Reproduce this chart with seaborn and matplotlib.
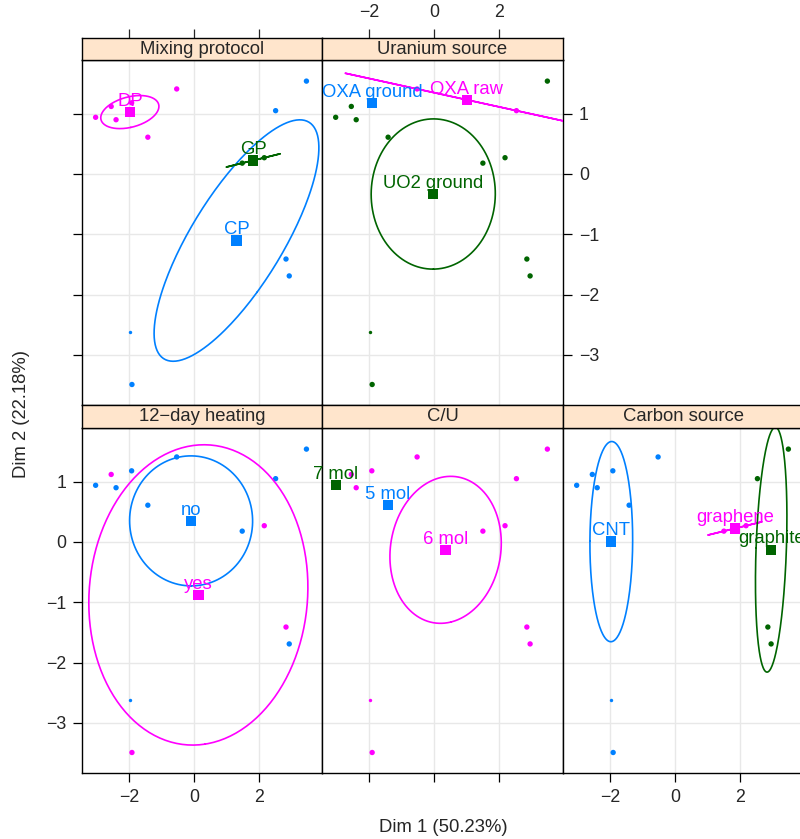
import numpy as np
import pandas as pd
import seaborn as sns
import matplotlib
matplotlib.use("Agg")
import matplotlib.pyplot as plt

sns.set_style("white")
plt.rcParams['font.family'] = ['Liberation Sans', 'DejaVu Sans']

# individual coordinates on the first two dimensions
dim1 = [3.47, -2.55, -1.92, -3.03, -2.40, -0.53, 2.52, -1.42, 1.49, 2.17, 2.84, 2.94, -1.98, -1.91]
dim2 = [1.54, 1.12, 1.18, 0.94, 0.90, 1.41, 1.05, 0.61, 0.18, 0.27, -1.41, -1.69, -2.62, -3.49]

mixing = ["CP", "DP", "DP", "DP", "DP", "DP", "CP", "DP", "GP", "GP", "CP", "CP", "CP", "CP"]
uranium = ["UO2 ground", "UO2 ground", "OXA ground", "UO2 ground", "UO2 ground", "OXA raw", "OXA raw",
           "UO2 ground", "UO2 ground", "UO2 ground", "UO2 ground", "UO2 ground", "UO2 ground", "UO2 ground"]
heating = ["no", "yes", "no", "no", "no", "no", "no", "no", "no", "yes", "yes", "no", "no", "yes"]
c_u = ["6 mol", "6 mol", "6 mol", "7 mol", "6 mol", "6 mol", "6 mol", "5 mol", "6 mol", "6 mol",
       "6 mol", "6 mol", "6 mol", "6 mol"]
carbon = ["graphite", "CNT", "CNT", "CNT", "CNT", "CNT", "graphite", "CNT", "graphene", "graphene",
          "graphite", "graphite", "CNT", "CNT"]

panels = [("Mixing protocol", "mixing", 0, 0),
          ("Uranium source", "uranium", 0, 1),
          ("12\u2212day heating", "heating", 1, 0),
          ("C/U", "c_u", 1, 1),
          ("Carbon source", "carbon", 1, 2)]

df = pd.DataFrame({"dim1": dim1, "dim2": dim2, "mixing": mixing, "uranium": uranium,
                   "heating": heating, "c_u": c_u, "carbon": carbon})
df["faint"] = False
df.loc[12, "faint"] = True

colors = ["#0080ff", "#ff00ff", "#006400"]
chi = np.sqrt(5.991)

def conf_ellipse(x, y):
    pts = np.column_stack([x, y])
    cov = np.cov(pts.T) / len(pts)
    vals, vecs = np.linalg.eigh(cov)
    vals = np.clip(vals, 0, None)
    t = np.linspace(0, 2 * np.pi, 240)
    e = vecs @ (np.sqrt(vals)[:, None] * np.stack([np.cos(t), np.sin(t)])) * chi
    return pts[:, 0].mean() + e[0], pts[:, 1].mean() + e[1]

W, H = 800, 839
def box(x0, y0, x1, y1):
    return [x0 / W, 1 - y1 / H, (x1 - x0) / W, (y1 - y0) / H]

col_x = [82, 322, 563, 804]
rows = [(38, 60, 405), (405, 428, 773)]

fig = plt.figure(figsize=(8, 8.39), dpi=100)
xlim = (-3.45, 3.95)
ylim = (-3.83, 1.89)
fs = 13.3
tfs = 12.8

for title, var, r, c in panels:
    s_top, p_top, p_bot = rows[r]
    ax = fig.add_axes(box(col_x[c], p_top, col_x[c + 1], p_bot))
    st = fig.add_axes(box(col_x[c], s_top, col_x[c + 1], p_top))

    levels = sorted(df[var].unique())
    pal = dict(zip(levels, colors))

    sns.scatterplot(data=df[~df.faint], x="dim1", y="dim2", hue=var, hue_order=levels,
                    palette=pal, s=15, linewidth=0, legend=False, ax=ax, zorder=3)
    sns.scatterplot(data=df[df.faint], x="dim1", y="dim2", hue=var, hue_order=levels,
                    palette=pal, s=6, linewidth=0, legend=False, ax=ax, zorder=3)

    for lev in levels:
        sub = df[df[var] == lev]
        if len(sub) > 1:
            ex, ey = conf_ellipse(sub.dim1.values, sub.dim2.values)
            ax.plot(ex, ey, color=pal[lev], lw=1.2, zorder=4)
    cent = df.groupby(var)[["dim1", "dim2"]].mean().reset_index()
    sns.scatterplot(data=cent, x="dim1", y="dim2", hue=var, hue_order=levels, palette=pal,
                    marker="s", s=55, linewidth=0, legend=False, ax=ax, zorder=5)
    for _, row in cent.iterrows():
        ax.annotate(row[var], (row.dim1, row.dim2), xytext=(0, 4.5), textcoords="offset points",
                    ha="center", va="baseline", color=pal[row[var]], fontsize=fs, zorder=6)

    ax.set_xlim(xlim)
    ax.set_ylim(ylim)
    ax.set_xticks([-2, 0, 2])
    ax.set_yticks([1, 0, -1, -2, -3])
    ax.grid(True, color="#e8e8e8", lw=1)
    ax.set_axisbelow(True)
    ax.set_xlabel("")
    ax.set_ylabel("")
    ax.tick_params(direction="out", length=6.5, width=0.9, pad=5, labelsize=tfs, color="black",
                   left=False, right=False, top=False, bottom=False,
                   labelleft=False, labelright=False, labeltop=False, labelbottom=False)
    if c == 0:
        ax.tick_params(axis="y", left=True, labelleft=(r == 1))
    if r == 0 and c == 1:
        ax.tick_params(axis="y", right=True, labelright=True)
    if r == 1:
        ax.tick_params(axis="x", bottom=True, labelbottom=(c != 1))
    for sp in ax.spines.values():
        sp.set_color("black")
        sp.set_linewidth(1)

    st.set_facecolor("#ffe5cc")
    st.set_xlim(xlim)
    st.set_xticks([-2, 0, 2])
    st.set_yticks([])
    st.tick_params(direction="out", length=6.5, width=0.9, pad=6, labelsize=tfs,
                   bottom=False, labelbottom=False, top=(r == 0), labeltop=(r == 0 and c == 1))
    for sp in st.spines.values():
        sp.set_color("black")
        sp.set_linewidth(1)
    st.text(0.5, 0.5, title, transform=st.transAxes, ha="center", va="center", fontsize=fs)

fig.text(443 / W, 1 - 828 / H, "Dim 1 (50.23%)", ha="center", va="center", fontsize=fs)
fig.text(22 / W, 1 - 414 / H, "Dim 2 (22.18%)", ha="center", va="center", rotation=90, fontsize=fs)

fig.savefig("out.png", dpi=100)
